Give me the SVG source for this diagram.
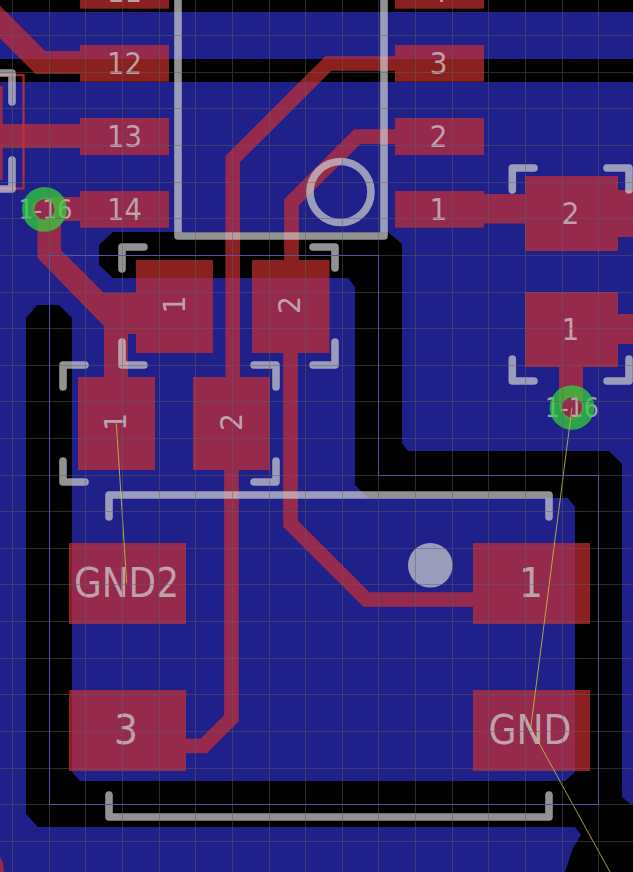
<svg xmlns="http://www.w3.org/2000/svg" width="633" height="872" viewBox="0 0 633 872">
<style>
.grid{fill:none;stroke:#606060;stroke-opacity:.45;stroke-width:1;shape-rendering:crispEdges}
.edge{fill:none;stroke:#5656b0;stroke-opacity:.9;stroke-width:1;shape-rendering:crispEdges}
.cu{fill:#cf3030}
.tr{fill:none;stroke:#cf3030;stroke-width:14.7;stroke-linejoin:miter}
.silk{fill:none;stroke:#d0d0d0;stroke-opacity:.7;stroke-width:7.6;stroke-linecap:round;stroke-linejoin:round}
.lb{font-family:"DejaVu Sans",sans-serif;fill:#d0d0d0;fill-opacity:.72;text-anchor:middle}
.s30{font-size:30px}
.s41{font-size:41px}
.s27{font-size:27px}
.via{fill:none;stroke:#33d239;stroke-opacity:.72;stroke-width:12.3}
.rat{fill:none;stroke:#c8c83c;stroke-opacity:.8;stroke-width:1}
</style>
<rect width="633" height="872" fill="#20208a"/>
<g id="keepout" fill="#000">
<rect x="0" y="0" width="633" height="12"/>
<rect x="0" y="59" width="633" height="23"/>
<path d="M113 232H388L402 244V443L408 451H609L622 464V797L630 804H633V872H565L573 848L581 835L575 827H38L26 814V318L37 305H59L72 318V772L80 781H565L575 772V507L568 498H368L355 485V287L348 278H113L99 265V245Z"/>
</g>
<g id="copper" opacity=".67">
<g id="connectors">
<path class="tr" style="stroke-width:23" d="M-20 2L40.4 62.5H90"/>
<path class="tr" style="stroke-width:24" d="M0 136H90"/>
<path class="tr" style="stroke-width:24" d="M44 209H90"/>
<path class="cu" d="M37.5 209H61V250L104 293H136V334H128V377H104V326L37.5 258Z"/>
<path class="tr" d="M400 63.5H328.3L232.7 159.1V380"/>
<path class="tr" d="M400 136.7H357.2L291.5 202.4V265"/>
<path class="tr" d="M231.5 465V718.3L203.8 746H180"/>
<path class="tr" d="M290.5 348V523.7L366.3 599.5H480"/>
<rect class="cu" x="480" y="194" width="50" height="29.5"/>
<rect class="cu" x="610" y="190" width="23" height="47"/>
<rect class="cu" x="610" y="314" width="23" height="30"/>
<rect class="cu" x="559" y="360" width="24" height="47"/>
<circle class="cu" cx="44.4" cy="209.4" r="12"/>
<circle class="cu" cx="572" cy="407.5" r="12"/>
<path class="cu" d="M0 857L3 863L4 872H0Z"/>
</g>
<g id="pad-11"><rect class="cu" x="80" y="-28" width="89" height="36.7"/></g>
<g id="pad-12"><rect class="cu" x="80" y="45" width="89" height="36.7"/></g>
<g id="pad-13"><rect class="cu" x="80" y="118" width="89" height="37"/></g>
<g id="pad-14"><rect class="cu" x="80" y="191" width="89" height="36.7"/></g>
<g id="pad-4"><rect class="cu" x="395" y="-28" width="89" height="36.7"/></g>
<g id="pad-3"><rect class="cu" x="395" y="45" width="89" height="36.7"/></g>
<g id="pad-2"><rect class="cu" x="395" y="118" width="89" height="37"/></g>
<g id="pad-1"><rect class="cu" x="395" y="191" width="89" height="36.7"/></g>
<g id="pad-left"><rect class="cu" x="-10" y="86" width="12.7" height="94"/></g>
<g id="cap-a-1"><rect class="cu" x="136" y="260" width="77" height="93"/></g>
<g id="cap-a-2"><rect class="cu" x="252" y="260" width="77.5" height="93"/></g>
<g id="cap-b-1"><rect class="cu" x="78" y="377" width="77" height="93"/></g>
<g id="cap-b-2"><rect class="cu" x="193" y="377" width="77" height="93"/></g>
<g id="cap-c-2"><rect class="cu" x="525" y="176" width="93" height="75"/></g>
<g id="cap-c-1"><rect class="cu" x="525" y="292" width="93" height="75"/></g>
<g id="jack-gnd2"><rect class="cu" x="69" y="543" width="117" height="81"/></g>
<g id="jack-3"><rect class="cu" x="69" y="690" width="117" height="81"/></g>
<g id="jack-1"><rect class="cu" x="473" y="543" width="117" height="81"/></g>
<g id="jack-gnd"><rect class="cu" x="473" y="690" width="117" height="81"/></g>
</g>
<rect id="pad-left-outline" x="-10" y="75" width="33.5" height="113.5" fill="none" stroke="#d03038" stroke-opacity=".75" stroke-width="2.4"/>
<g id="silkscreen">
<path class="silk" d="M178 -10V236H384V-10"/>
<circle class="silk" cx="340.5" cy="192" r="30.5"/>
<circle cx="430.3" cy="565.3" r="22.3" fill="#d0d0d0" fill-opacity=".7"/>
<path class="silk" d="M-5 73H12V102M12 160V189H-5"/>
<path class="silk" d="M122 269V247H144M313 247H335V268M122 342V365H144M313 365H335V342"/>
<path class="silk" d="M63 387V365H85M254 365H276V387M63 461V482H85M254 482H276V461"/>
<path class="silk" d="M512.3 190V168H534M607 168H629V190M512.3 359V381H534M607 381H629V359"/>
<path class="silk" d="M109 517V495H549V517M109 795V817H549V795"/>
</g>
<g id="labels">
<text class="lb s30" x="124.5" y="74" textLength="35" lengthAdjust="spacingAndGlyphs">12</text>
<text class="lb s30" x="124.5" y="146.7" textLength="35" lengthAdjust="spacingAndGlyphs">13</text>
<text class="lb s30" x="124.5" y="219.5" textLength="35" lengthAdjust="spacingAndGlyphs">14</text>
<text class="lb s30" x="124.5" y="1.5" textLength="35" lengthAdjust="spacingAndGlyphs">11</text>
<text class="lb s30" x="438.5" y="1.5" textLength="18" lengthAdjust="spacingAndGlyphs">4</text>
<text class="lb s30" x="438.5" y="73.5" textLength="18" lengthAdjust="spacingAndGlyphs">3</text>
<text class="lb s30" x="438.5" y="146.5" textLength="18" lengthAdjust="spacingAndGlyphs">2</text>
<text class="lb s30" x="438.5" y="219.5" textLength="18" lengthAdjust="spacingAndGlyphs">1</text>
<text class="lb s30" x="570.6" y="223.5" textLength="18" lengthAdjust="spacingAndGlyphs">2</text>
<text class="lb s30" x="570.6" y="340" textLength="18" lengthAdjust="spacingAndGlyphs">1</text>
<text class="lb s30" transform="translate(185 304.5) rotate(-90)" textLength="18" lengthAdjust="spacingAndGlyphs">1</text>
<text class="lb s30" transform="translate(300 305) rotate(-90)" textLength="18" lengthAdjust="spacingAndGlyphs">2</text>
<text class="lb s30" transform="translate(126 421.7) rotate(-90)" textLength="18" lengthAdjust="spacingAndGlyphs">1</text>
<text class="lb s30" transform="translate(241.7 422) rotate(-90)" textLength="18" lengthAdjust="spacingAndGlyphs">2</text>
<text class="lb s41" x="126.5" y="597" textLength="105" lengthAdjust="spacingAndGlyphs">GND2</text>
<text class="lb s41" x="126" y="744" textLength="24" lengthAdjust="spacingAndGlyphs">3</text>
<text class="lb s41" x="531" y="597" textLength="24" lengthAdjust="spacingAndGlyphs">1</text>
<text class="lb s41" x="530" y="744" textLength="83" lengthAdjust="spacingAndGlyphs">GND</text>
<text class="lb s27" x="45.5" y="219" textLength="54" lengthAdjust="spacingAndGlyphs">1-16</text>
<text class="lb s27" x="572" y="417" textLength="54" lengthAdjust="spacingAndGlyphs">1-16</text>
</g>
<g id="via-1"><circle class="via" cx="44.4" cy="209.4" r="16.2"/></g>
<g id="via-2"><circle class="via" cx="572" cy="407.5" r="16.2"/></g>
<g id="ratsnest">
<path class="rat" d="M116.3 423.3L126.7 583.3"/>
<path class="rat" d="M572 407.5L530.7 728L610 872"/>
</g>
<path class="grid" d="M12.5 0V872M49.5 0V872M85.5 0V872M122.5 0V872M159.5 0V872M195.5 0V872M232.5 0V872M269.5 0V872M305.5 0V872M342.5 0V872M378.5 0V872M415.5 0V872M452.5 0V872M488.5 0V872M525.5 0V872M562.5 0V872M598.5 0V872M0 35.5H633M0 72.5H633M0 108.5H633M0 145.5H633M0 182.5H633M0 218.5H633M0 255.5H633M0 292.5H633M0 328.5H633M0 365.5H633M0 401.5H633M0 438.5H633M0 475.5H633M0 511.5H633M0 548.5H633M0 584.5H633M0 621.5H633M0 658.5H633M0 694.5H633M0 731.5H633M0 768.5H633M0 804.5H633M0 841.5H633"/>
<path id="board-edge" class="edge" d="M49.5 255.5H378.5V475.5H598.5V804.5H49.5Z"/>
</svg>
